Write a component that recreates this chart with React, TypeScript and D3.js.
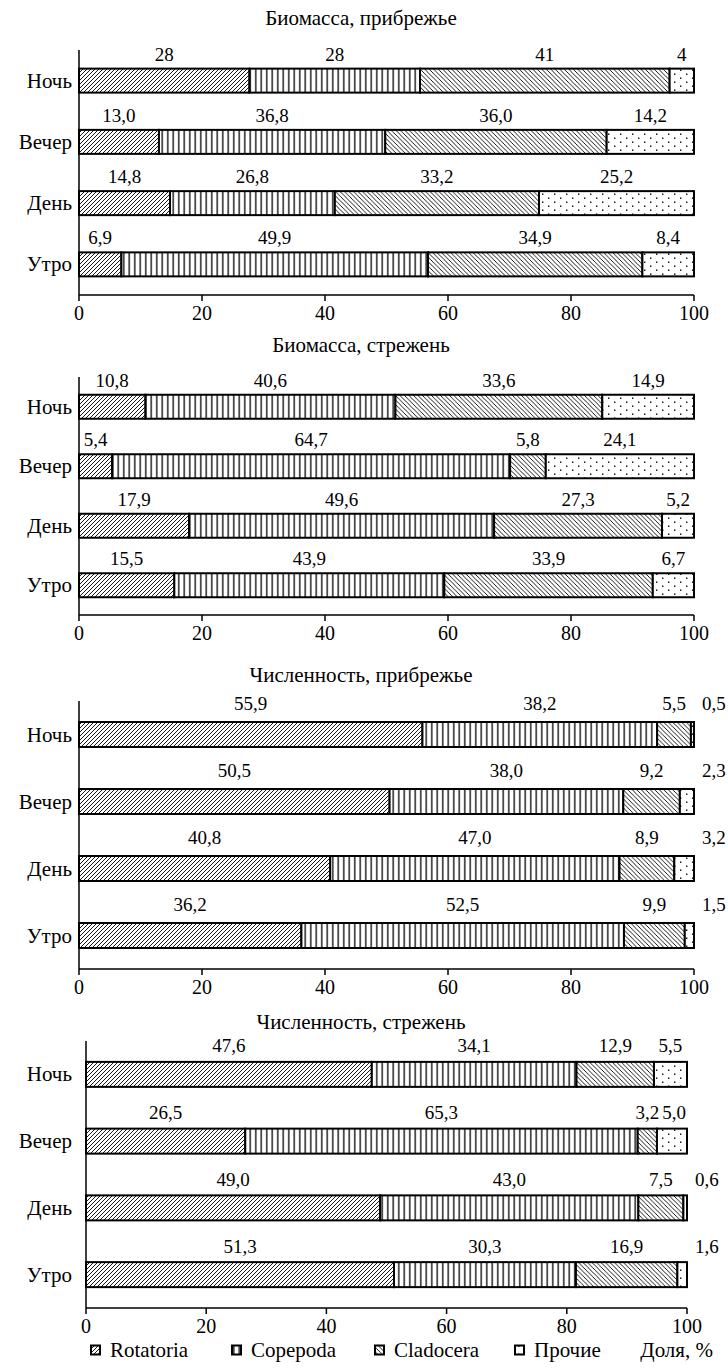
import * as d3 from "d3";

const categories = ["Ночь", "Вечер", "День", "Утро"];
const groups = ["Rotatoria", "Copepoda", "Cladocera", "Прочие"];
const xTicks = [0, 20, 40, 60, 80, 100];

const panelTitles = [
  "Биомасса, прибрежье",
  "Биомасса, стрежень",
  "Численность, прибрежье",
  "Численность, стрежень",
];

// labels exactly as printed; values are read from them
const biomassShore = [
  ["28", "28", "41", "4"],
  ["13,0", "36,8", "36,0", "14,2"],
  ["14,8", "26,8", "33,2", "25,2"],
  ["6,9", "49,9", "34,9", "8,4"],
];
const biomassStream = [
  ["10,8", "40,6", "33,6", "14,9"],
  ["5,4", "64,7", "5,8", "24,1"],
  ["17,9", "49,6", "27,3", "5,2"],
  ["15,5", "43,9", "33,9", "6,7"],
];
const countShore = [
  ["55,9", "38,2", "5,5", "0,5"],
  ["50,5", "38,0", "9,2", "2,3"],
  ["40,8", "47,0", "8,9", "3,2"],
  ["36,2", "52,5", "9,9", "1,5"],
];
const countStream = [
  ["47,6", "34,1", "12,9", "5,5"],
  ["26,5", "65,3", "3,2", "5,0"],
  ["49,0", "43,0", "7,5", "0,6"],
  ["51,3", "30,3", "16,9", "1,6"],
];

const panelData = [biomassShore, biomassStream, countShore, countStream];

const W = 728;
const H = 1371;
const FONT = "'Liberation Serif', 'Times New Roman', serif";
const FS = 19;
const FS_TEXT = 21;
const CAT_X = 72;
const TITLE_X = 361;

const frames = [
  { x0: 79, x1: 694, top: 50, bottom: 295, titleY: 18, labelDy: 27, barH: 24 },
  { x0: 79, x1: 694, top: 377, bottom: 615, titleY: 345, labelDy: 27, barH: 24 },
  { x0: 79, x1: 694, top: 701, bottom: 969, titleY: 675, labelDy: 32, barH: 25 },
  { x0: 86, x1: 687, top: 1041, bottom: 1308, titleY: 1022, labelDy: 29, barH: 25 },
];

const fills = ["url(#pRot)", "url(#pCop)", "url(#pClad)", "url(#pDot)"];

const num = (s) => parseFloat(s.replace(",", "."));
const textW = (s) =>
  [...s].reduce((a, c) => a + (c === "," ? 0.25 : 0.5), 0) * FS;

function Panel({ frame, rows, title }) {
  const x = d3.scaleLinear().domain([0, 100]).range([frame.x0, frame.x1]);
  const y = d3
    .scalePoint()
    .domain(categories)
    .range([frame.top, frame.bottom])
    .padding(0.5);

  return (
    <g>
      <text x={TITLE_X} y={frame.titleY + 7} textAnchor="middle" fontSize={FS_TEXT}>
        {title}
      </text>
      {rows.map((labels, ri) => {
        const cat = categories[ri];
        const cy = y(cat);
        const vals = labels.map(num);
        const total = d3.sum(vals);
        const ends = d3.cumsum(vals).map((v) => (v / total) * 100);
        const segs = vals.map((v, i) => ({
          a: i === 0 ? 0 : ends[i - 1],
          b: ends[i],
          label: labels[i],
          g: i,
        }));
        // label placement, nudging the last small one outside the bar
        const pos = segs.map((s) => ({
          x: (x(s.a) + x(s.b)) / 2,
          w: textW(s.label),
          segW: x(s.b) - x(s.a),
        }));
        const last = pos[pos.length - 1];
        if (last.segW < last.w + 4) last.x = x(100) + 8 + last.w / 2;
        for (let i = 1; i < pos.length; i++) {
          const minX = pos[i - 1].x + pos[i - 1].w / 2 + 3 + pos[i].w / 2;
          if (pos[i].x < minX) pos[i].x = minX;
        }
        return (
          <g key={cat}>
            <text x={CAT_X} y={cy + 7} textAnchor="end" fontSize={FS_TEXT}>
              {cat}
            </text>
            {segs.map((s, i) => (
              <rect
                key={i}
                x={x(s.a)}
                y={cy - frame.barH / 2}
                width={x(s.b) - x(s.a)}
                height={frame.barH}
                fill={fills[s.g]}
                stroke="#000"
                strokeWidth={2}
              />
            ))}
            {segs.map((s, i) => (
              <text
                key={"l" + i}
                x={pos[i].x}
                y={cy - frame.labelDy + 7}
                textAnchor="middle"
              >
                {s.label}
              </text>
            ))}
          </g>
        );
      })}
      <line
        x1={frame.x0}
        x2={frame.x0}
        y1={frame.top}
        y2={frame.bottom}
        stroke="#000"
        strokeWidth={1.5}
      />
      <line
        x1={frame.x0}
        x2={frame.x1}
        y1={frame.bottom}
        y2={frame.bottom}
        stroke="#000"
        strokeWidth={1.5}
      />
      {xTicks.map((t) => (
        <g key={t}>
          <line
            x1={x(t)}
            x2={x(t)}
            y1={frame.bottom}
            y2={frame.bottom + 6}
            stroke="#000"
            strokeWidth={1.5}
          />
          <text x={x(t)} y={frame.bottom + 25} textAnchor="middle" fontSize={20}>
            {t}
          </text>
        </g>
      ))}
    </g>
  );
}

function Legend() {
  const legendX = [91, 232, 375, 515];
  const ly = 1350;
  return (
    <g fontSize={FS_TEXT}>
      {groups.map((g, i) => (
        <g key={g}>
          <rect
            x={legendX[i]}
            y={ly - 4.5}
            width={9}
            height={9}
            fill={fills[i]}
            stroke="#000"
            strokeWidth={2}
          />
          <text x={legendX[i] + 19} y={ly + 7}>
            {g}
          </text>
        </g>
      ))}
      <text x={713} y={ly + 7} textAnchor="end">
        Доля, %
      </text>
    </g>
  );
}

export default function App() {
  return (
    <svg
      width={W}
      height={H}
      style={{
        position: "absolute",
        left: 0,
        top: 0,
        background: "#fff",
        fontFamily: FONT,
        fontSize: FS,
      }}
      fill="#000"
    >
      <defs>
        <pattern id="pRot" patternUnits="userSpaceOnUse" width={4} height={4}>
          <rect width={4} height={4} fill="#fff" />
          <path d="M-1,1 l2,-2 M0,4 l4,-4 M3,5 l2,-2" stroke="#000" strokeWidth={0.9} />
        </pattern>
        <pattern id="pCop" patternUnits="userSpaceOnUse" width={5.5} height={4}>
          <rect width={5.5} height={4} fill="#fff" />
          <line x1={2.75} x2={2.75} y1={0} y2={4} stroke="#000" strokeWidth={1.3} />
        </pattern>
        <pattern id="pClad" patternUnits="userSpaceOnUse" width={4.5} height={4.5}>
          <rect width={4.5} height={4.5} fill="#fff" />
          <path d="M-1,3.5 l2,2 M0,0 l4.5,4.5 M3.5,-1 l2,2" stroke="#000" strokeWidth={0.9} />
        </pattern>
        <pattern id="pDot" patternUnits="userSpaceOnUse" width={12} height={8}>
          <rect width={12} height={8} fill="#fff" />
          <rect x={2} y={1.5} width={1.4} height={1.4} fill="#000" />
          <rect x={8} y={5.5} width={1.4} height={1.4} fill="#000" />
        </pattern>
      </defs>
      <rect width={W} height={H} fill="#fff" />
      {panelData.map((rows, i) => (
        <Panel key={i} frame={frames[i]} rows={rows} title={panelTitles[i]} />
      ))}
      <Legend />
    </svg>
  );
}
